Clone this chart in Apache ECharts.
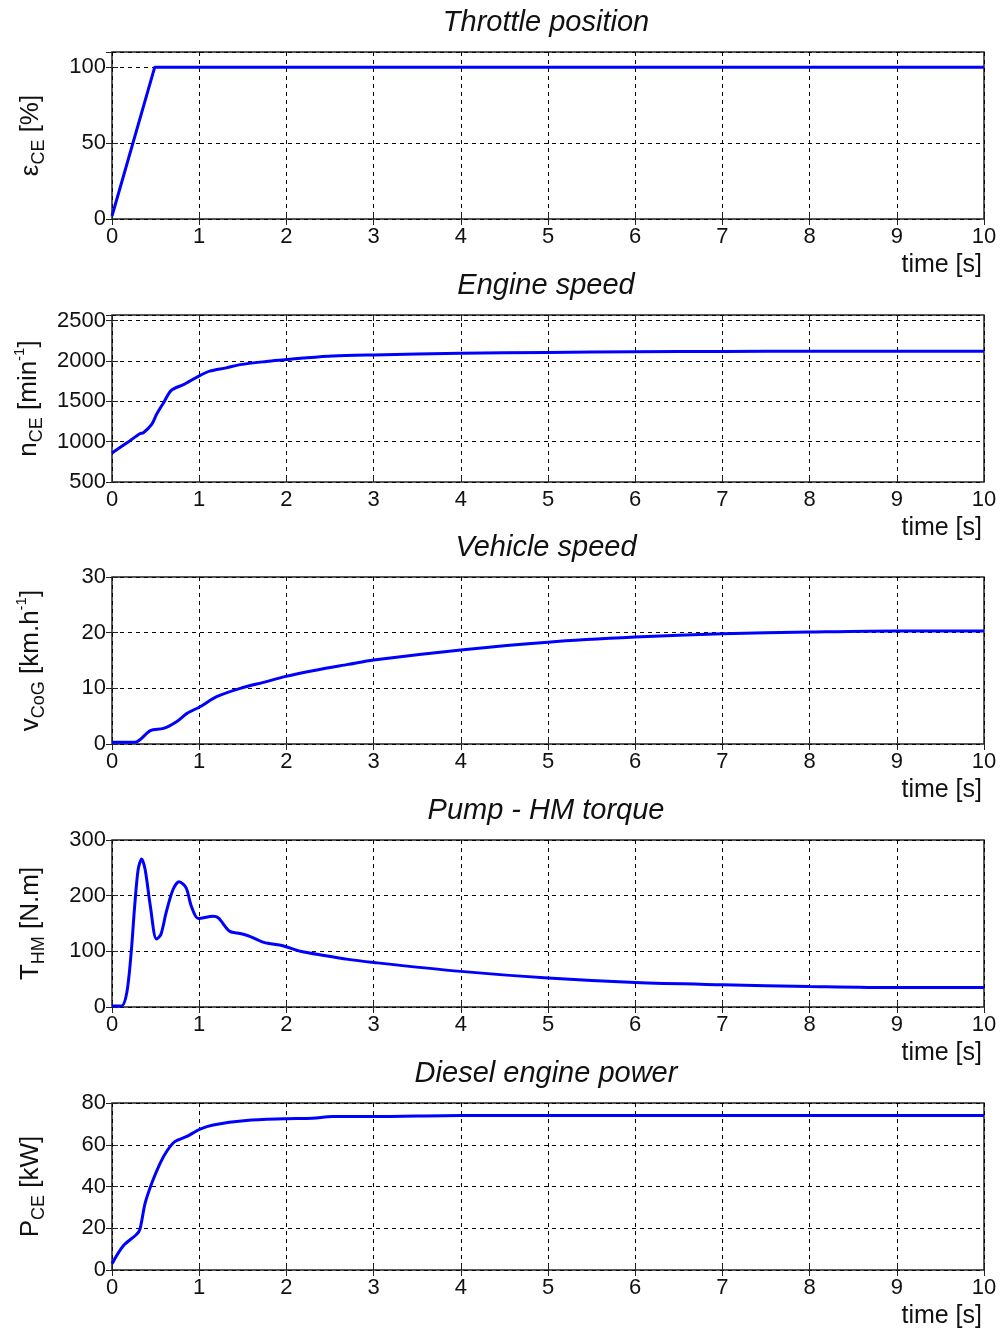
<!DOCTYPE html>
<html>
<head>
<meta charset="utf-8">
<script src="https://cdn.jsdelivr.net/npm/echarts@6/dist/echarts.min.js"></script>
<style>
  html, body { margin: 0; background: #fff; }
  #main { width: 1000px; height: 1332px; }
</style>
</head>
<body>
<div id="main"></div>
<script>
// panel titles and axis names
var titles = ['Throttle position', 'Engine speed', 'Vehicle speed', 'Pump - HM torque', 'Diesel engine power'];
var yNames = [
    '{m|ε}{s|CE}{m| [%]}',
    '{m|n}{s|CE}{m| [min}{p|-1}{m|]}',
    '{m|v}{s|CoG}{m| [km.h}{p|-1}{m|]}',
    '{m|T}{s|HM}{m| [N.m]}',
    '{m|P}{s|CE}{m| [kW]}'
];
var yMin = [0, 500, 0, 0, 0];
var yMax = [110, 2570, 30, 300, 80];
var yStep = [50, 500, 10, 100, 20];

// throttle position [%]
var throttleT = [0, 0.49, 10];
var throttleV = [2, 100, 100];

// engine speed [min^-1]
var speedT = [0, 0.19, 0.32, 0.36, 0.455, 0.51, 0.59, 0.68, 0.82, 0.99, 1.12, 1.31, 1.47, 1.77, 1.98, 2.19, 2.53, 3, 4, 5, 6, 7, 8, 10];
var speedV = [860, 1000, 1098, 1110, 1213, 1336, 1480, 1636, 1707, 1810, 1875, 1915, 1955, 1994, 2015, 2036, 2062, 2075, 2095, 2105, 2115, 2118, 2120, 2120];

// vehicle speed [km/h]
var vehT = [0, 0.26, 0.44, 0.59, 0.74, 0.86, 1.01, 1.2, 1.47, 1.77, 1.98, 2.35, 2.71, 3, 4, 5, 6, 7, 8, 9, 10];
var vehV = [0.3, 0.3, 2.4, 2.8, 4.0, 5.5, 6.7, 8.5, 10.0, 11.2, 12.1, 13.3, 14.3, 15.1, 16.9, 18.3, 19.2, 19.8, 20.1, 20.3, 20.3];

// pump - HM torque [N.m]
var torqT = [0, 0.11, 0.17, 0.22, 0.26, 0.30, 0.34, 0.38, 0.44, 0.51, 0.56, 0.62, 0.70, 0.77, 0.85, 0.91, 0.99, 1.16, 1.22, 1.35, 1.47, 1.58, 1.74, 1.96, 2.16, 2.69, 3, 4, 5, 6, 7, 8, 9, 10];
var torqV = [2, 2, 26, 98, 181, 247, 266, 247, 181, 122, 130, 169, 211, 225, 214, 181, 159, 163, 160, 136, 132, 127, 116, 110, 100, 86, 80, 64, 52, 44, 40, 37, 35, 35];

// diesel engine power [kW]
var powT = [0, 0.13, 0.28, 0.32, 0.38, 0.46, 0.55, 0.63, 0.72, 0.86, 1.01, 1.16, 1.54, 1.98, 2.3, 2.53, 3, 4, 6, 8, 10];
var powV = [3, 11.6, 17, 19.5, 32, 42, 51, 57, 61.5, 64, 67.5, 69.5, 71.6, 72.4, 72.7, 73.5, 73.5, 74, 74, 74, 74];

var seriesT = [throttleT, speedT, vehT, torqT, powT];
var seriesV = [throttleV, speedV, vehV, torqV, powV];

var tops = [52, 315, 577, 840, 1103];
var font = 'Arial, "Liberation Sans", sans-serif';

var myChart = echarts.init(document.getElementById('main'));
var grid = [], xAxis = [], yAxis = [], series = [], title = [];
var n = titles.length;

for (var i = 0; i < n; i++) {
    grid.push({ left: 112, right: 16, top: tops[i], height: 167, show: true, borderColor: '#222', borderWidth: 1.5 });
    title.push({
        text: titles[i], left: 546, top: tops[i] - 44, textAlign: 'center', padding: 0,
        textStyle: { fontFamily: font, fontSize: 29, fontStyle: 'italic', fontWeight: 'normal', color: '#111' }
    });
    title.push({
        text: 'time [s]', right: 18, top: tops[i] + 201, padding: 0,
        textStyle: { fontFamily: font, fontSize: 25, fontWeight: 'normal', color: '#111' }
    });
    xAxis.push({
        type: 'value', gridIndex: i, min: 0, max: 10, interval: 1,
        axisLine: { show: false },
        axisTick: { inside: true, length: 6, lineStyle: { color: '#222' } },
        axisLabel: { fontFamily: font, fontSize: 22, color: '#111', margin: 7 },
        splitLine: { show: true, lineStyle: { color: '#000', type: [4, 4], width: 1 } }
    });
    yAxis.push({
        type: 'value', gridIndex: i, min: yMin[i], max: yMax[i], interval: yStep[i],
        name: yNames[i], nameLocation: 'middle', nameGap: 64,
        nameTextStyle: {
            fontFamily: font, color: '#111',
            rich: {
                m: { fontFamily: font, fontSize: 26, lineHeight: 34, color: '#111' },
                s: { fontFamily: font, fontSize: 18, verticalAlign: 'bottom', color: '#111' },
                p: { fontFamily: font, fontSize: 15, verticalAlign: 'top', color: '#111' }
            }
        },
        axisLine: { show: false },
        axisTick: { inside: true, length: 6, lineStyle: { color: '#222' } },
        axisLabel: {
            fontFamily: font, fontSize: 22, color: '#111', margin: 6,
            showMaxLabel: yMax[i] % yStep[i] === 0,
            formatter: function (v) { return String(v); }
        },
        splitLine: { show: true, lineStyle: { color: '#000', type: [4, 4], width: 1 } }
    });
    var pts = [];
    for (var k = 0; k < seriesT[i].length; k++) pts.push([seriesT[i][k], seriesV[i][k]]);
    series.push({
        type: 'line', xAxisIndex: i, yAxisIndex: i, data: pts, showSymbol: false,
        smooth: i === 0 ? false : 0.3,
        lineStyle: { color: '#0000ff', width: 3 }
    });
}
// mirrored axes for inside ticks on top and right edges
for (var j = 0; j < n; j++) {
    xAxis.push({
        type: 'value', gridIndex: j, position: 'top', min: 0, max: 10, interval: 1,
        axisLine: { show: false }, axisLabel: { show: false }, splitLine: { show: false },
        axisTick: { inside: true, length: 6, lineStyle: { color: '#222' } }
    });
    yAxis.push({
        type: 'value', gridIndex: j, position: 'right', min: yMin[j], max: yMax[j], interval: yStep[j],
        axisLine: { show: false }, axisLabel: { show: false }, splitLine: { show: false },
        axisTick: { inside: true, length: 6, lineStyle: { color: '#222' } }
    });
}

myChart.setOption({
    animation: false,
    backgroundColor: '#fff',
    title: title,
    grid: grid,
    xAxis: xAxis,
    yAxis: yAxis,
    series: series
});
</script>
</body>
</html>
